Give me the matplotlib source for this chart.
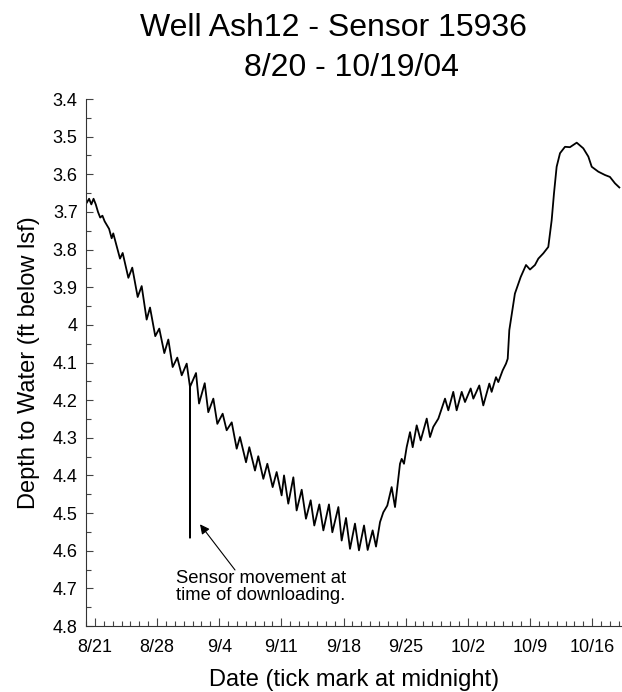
import matplotlib
matplotlib.use("Agg")
import matplotlib.pyplot as plt
from matplotlib.ticker import MultipleLocator, FixedLocator, FixedFormatter

plt.rcParams['font.family'] = ['Liberation Sans', 'DejaVu Sans']

# time in days after 8/20/04 00:00, depth to water (ft below lsf)
days = [0.10, 0.35, 0.60, 0.85, 1.10, 1.35, 1.60, 1.85, 2.10, 2.35, 2.60,
        2.89, 3.07, 3.83, 4.13, 4.77, 5.21, 5.82, 6.27, 6.83, 7.21, 7.80, 8.25,
        8.82, 9.27, 9.76, 10.28, 10.78, 11.34, 11.71, 11.71, 11.71, 12.39,
        12.73, 13.37, 13.77, 14.34, 14.79, 15.39, 15.84, 16.41,
        16.97, 17.34, 18.02, 18.39, 19.03, 19.40, 19.97, 20.42, 21.02, 21.47,
        22.03, 22.30, 22.78, 23.35, 23.72, 24.29, 24.77, 25.30, 25.71, 26.28,
        26.73, 27.36, 27.74, 28.42, 28.79, 29.28, 29.73, 30.29, 30.74, 31.31,
        31.72, 32.28, 32.66, 33.11, 33.48, 33.93, 34.42, 34.80, 35.36, 35.55,
        35.81, 36.11, 36.49, 36.79, 37.24, 37.69, 38.37, 38.74, 39.11, 39.68,
        40.43, 40.80, 41.36, 41.74, 42.31, 42.68, 43.32, 43.62, 44.29, 44.74,
        45.42, 45.68, 46.17, 46.43, 46.92, 47.30, 47.49, 47.67, 48.30, 48.95,
        49.55, 50.00, 50.56, 50.94, 51.50, 52.06, 52.44, 52.70, 53.00, 53.38,
        53.94, 54.50, 55.26, 56.00, 56.57, 56.95, 57.69, 58.45, 59.00, 59.57,
        60.06]
depth = [3.675, 3.665, 3.680, 3.665, 3.680, 3.700, 3.715, 3.710, 3.725, 3.735, 3.745,
         3.770, 3.757, 3.824, 3.809, 3.875, 3.848, 3.926, 3.897, 3.986, 3.954, 4.030, 4.010,
         4.075, 4.039, 4.112, 4.087, 4.134, 4.103, 4.165, 4.565, 4.165, 4.128,
         4.209, 4.155, 4.232, 4.196, 4.263, 4.236, 4.280, 4.259,
         4.329, 4.298, 4.365, 4.325, 4.387, 4.349, 4.409, 4.369, 4.431, 4.391,
         4.453, 4.400, 4.475, 4.405, 4.493, 4.438, 4.515, 4.466, 4.533, 4.477,
         4.546, 4.477, 4.551, 4.484, 4.573, 4.513, 4.595, 4.528, 4.599, 4.533,
         4.598, 4.546, 4.589, 4.524, 4.498, 4.480, 4.431, 4.484, 4.369, 4.356,
         4.369, 4.325, 4.285, 4.325, 4.267, 4.307, 4.249, 4.298, 4.271, 4.249,
         4.196, 4.227, 4.178, 4.227, 4.178, 4.205, 4.169, 4.196, 4.161, 4.214,
         4.156, 4.178, 4.139, 4.152, 4.121, 4.103, 4.090, 4.014, 3.917, 3.873,
         3.841, 3.853, 3.841, 3.824, 3.810, 3.793, 3.722, 3.651, 3.580, 3.544,
         3.527, 3.528, 3.516, 3.531, 3.553, 3.580, 3.593, 3.602, 3.607, 3.624,
         3.635]

xtick_days = [1, 8, 15, 22, 29, 36, 43, 50, 57]
xtick_labels = ["8/21", "8/28", "9/4", "9/11", "9/18", "9/25", "10/2", "10/9", "10/16"]
ytick_values = [3.4, 3.5, 3.6, 3.7, 3.8, 3.9, 4.0, 4.1, 4.2, 4.3, 4.4, 4.5, 4.6, 4.7, 4.8]
ytick_labels = ["3.4", "3.5", "3.6", "3.7", "3.8", "3.9", "4", "4.1", "4.2", "4.3",
                "4.4", "4.5", "4.6", "4.7", "4.8"]

W, H = 622, 692
fig = plt.figure(figsize=(W / 100, H / 100), dpi=100)
left, right, top, bottom = 86, 622, 99, 626
ax = fig.add_axes([left / W, 1 - bottom / H, (right - left) / W, (bottom - top) / H])

ax.plot(days, depth, color="black", lw=1.3)

ax.set_xlim(0, (right - left) / 8.88)
ax.set_ylim(4.8, 3.4)

ax.xaxis.set_major_locator(FixedLocator(xtick_days))
ax.xaxis.set_major_formatter(FixedFormatter(xtick_labels))
ax.xaxis.set_minor_locator(MultipleLocator(1))
ax.yaxis.set_major_locator(FixedLocator(ytick_values))
ax.yaxis.set_major_formatter(FixedFormatter(ytick_labels))
ax.yaxis.set_minor_locator(MultipleLocator(0.05))

ax.tick_params(axis="both", which="both", direction="in", labelsize=13, width=0.8, color="#444444")
ax.tick_params(axis="x", which="major", length=6, pad=9)
ax.tick_params(axis="x", which="minor", length=3.5)
ax.tick_params(axis="y", which="major", length=5, pad=6)
ax.tick_params(axis="y", which="minor", length=3.5)

for s in ("top", "right"):
    ax.spines[s].set_visible(False)
for s in ("left", "bottom"):
    ax.spines[s].set_linewidth(0.8)
    ax.spines[s].set_color("#333333")

ax.set_xlabel("Date (tick mark at midnight)", fontsize=17, labelpad=10)
ax.set_ylabel("Depth to Water (ft below lsf)", fontsize=17, labelpad=9)

fig.text(333 / W, 1 - 28 / H, "Well Ash12 - Sensor 15936", ha="center", va="center", fontsize=23)
fig.text(352 / W, 1 - 68 / H, "8/20 - 10/19/04", ha="center", va="center", fontsize=23)

ax.annotate("", xy=(12.65, 4.524), xytext=(16.97, 4.657),
            arrowprops=dict(arrowstyle="-|>", color="black", lw=0.8, mutation_scale=14))
ax.text(10.15, 4.652, "Sensor movement at\ntime of downloading.", fontsize=13.3,
        ha="left", va="top", linespacing=1.0)

fig.savefig("out.png", dpi=100)
